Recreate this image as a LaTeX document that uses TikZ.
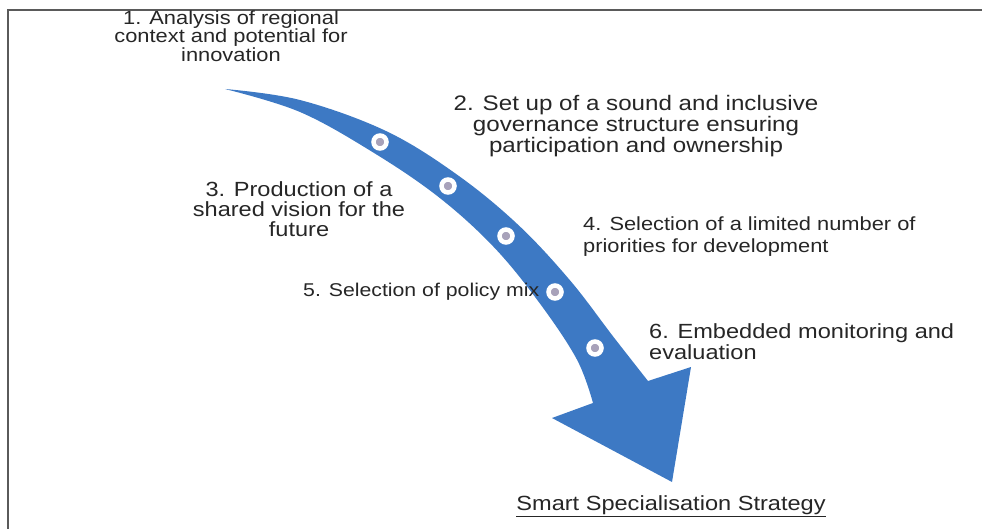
\documentclass[tikz,border=0pt]{standalone}
\usepackage{fontspec}
\setmainfont{Liberation Sans}[FakeStretch=1.15]
\usetikzlibrary{positioning}

\definecolor{arrowblue}{RGB}{61,121,196}
\definecolor{dotgrey}{RGB}{168,162,186}
\definecolor{textgrey}{RGB}{38,38,38}
\definecolor{framegrey}{RGB}{90,90,90}

\tikzset{
  steptext/.style={text=textgrey, inner sep=0pt, font=\fontsize{20.5}{21}\selectfont},
  stepdot/.style={circle, draw=white, line width=4.5pt, fill=dotgrey, minimum size=13pt, inner sep=0pt},
}

\begin{document}
\begin{tikzpicture}[x=1pt, y=-1pt]
    \useasboundingbox (0,0) rectangle (982,529);

    % Frame
    \draw[framegrey, line width=1.5pt] (8,529) -- (8,10) -- (982,10);

    % Curved arrow
    \fill[arrowblue] plot[smooth, tension=0.6] coordinates {(225,89) (300,100) (386,131) (456.7,174.4) (517.6,224.3) (569.9,280.2) (613,336.3) (648,381)}
        -- (691,367) -- (672,482) -- (552,418)
        -- plot[smooth, tension=0.6] coordinates {(593,403) (577,359.7) (540.1,303.8) (494.4,247.7) (439.3,197.6) (373.9,152.9) (300,112) (225,89)}
        -- cycle;

    % Dots on the arrow
    \node[stepdot] (d1) at (380,142) {};
    \node[stepdot] (d2) at (448,186) {};
    \node[stepdot] (d3) at (506,236) {};
    \node[stepdot] (d4) at (555,292) {};
    \node[stepdot] (d5) at (595,348) {};

    % Steps
    \node[steptext, align=center, font=\fontsize{19}{17}\selectfont] (analysis) at (231,36) {1. Analysis of regional\\context and potential for\\innovation};
    \node[steptext, align=center, font=\fontsize{21}{21}\selectfont] (governance) at (636,126) {2. Set up of a sound and inclusive\\governance structure ensuring\\participation and ownership};
    \node[steptext, align=center, font=\fontsize{20.5}{20}\selectfont] (vision) at (299,209) {3. Production of a\\shared vision for the\\future};
    \node[steptext, align=left, anchor=west, font=\fontsize{19}{22}\selectfont] (priorities) at (583,237) {4. Selection of a limited number of\\priorities for development};
    \node[steptext, anchor=west, font=\fontsize{18.5}{21}\selectfont] (policy) at (303,292) {5. Selection of policy mix};
    \node[steptext, align=left, anchor=west] (monitoring) at (649,342) {6. Embedded monitoring and\\evaluation};

    % Result
    \node[steptext] (strategy) at (671,506) {\underline{Smart Specialisation Strategy}};
\end{tikzpicture}
\end{document}
